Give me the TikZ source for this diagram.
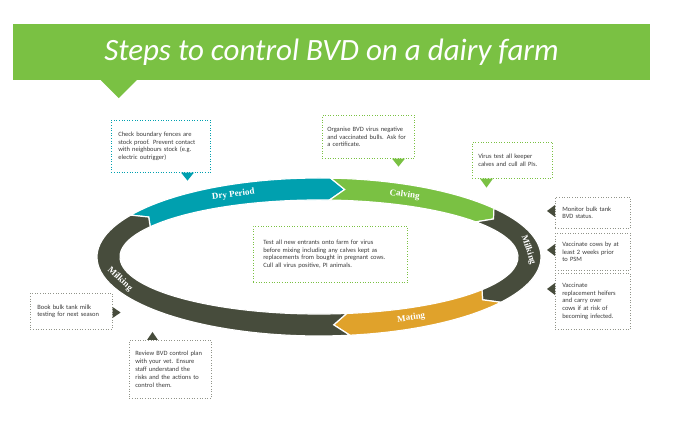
\documentclass[tikz,border=0pt]{standalone}
\usepackage{fontspec}
\setmainfont{Carlito}
\newfontfamily\ringfont{Liberation Serif}
\usetikzlibrary{positioning}

\definecolor{bvdgreen}{HTML}{7AC143}
\definecolor{bvdteal}{HTML}{00A0AF}
\definecolor{bvddark}{HTML}{474C3C}
\definecolor{bvdorange}{HTML}{E0A22B}
\definecolor{bvdtext}{HTML}{3A3A3A}

\begin{document}
\begin{tikzpicture}[
    x=1pt, y=1pt,
    banner/.style={
        fill=bvdgreen, minimum width=637pt, minimum height=56pt, inner sep=0pt,
        text=white, font=\fontsize{31}{31}\selectfont\itshape
    },
    note/.style={
        draw=#1, dotted, line width=0.6pt, anchor=north west, align=left,
        font=\fontsize{6.5}{7.8}\selectfont, text=bvdtext, inner xsep=7pt, inner ysep=4pt
    },
    seglbl/.style={font=\ringfont\bfseries\fontsize{9}{9}\selectfont, text=white, inner sep=0pt}
]
\useasboundingbox (0,0) rectangle (673,444);

% title banner
\node[banner] (title) at (331.5,392) {Steps to control BVD on a dairy farm};
\fill[bvdgreen] ([xshift=88pt]title.south west) -- ([xshift=124pt]title.south west)
    -- ([xshift=106pt, yshift=-18pt]title.south west) -- cycle;

% cycle ring
\begin{scope}[shift={(319,187)}]
\foreach \col/\from/\to in {bvdteal/148/87, bvdgreen/87/38, bvddark/38/-35, bvdorange/-35/-82, bvddark/-82/-212}
    \filldraw[fill=\col, draw=white, line width=1.2pt, line join=miter]
        (\from:222 and 79) arc[start angle=\from, end angle=\to, x radius=222pt, y radius=79pt]
        -- ({\to-4}:210.5 and 68) -- (\to:199 and 57)
        arc[start angle=\to, end angle=\from, x radius=199pt, y radius=57pt]
        -- ({\from-4}:210.5 and 68) -- cycle;

\node[seglbl, rotate=7.5] (dry) at (114:210.5 and 68) {Dry Period};
\node[seglbl, rotate=-7.5] (calving) at (66:210.5 and 68) {Calving};
\node[seglbl, rotate=-72] (milkright) at (6:210.5 and 68) {Milking};
\node[seglbl, rotate=8] (mating) at (-64:210.5 and 68) {Mating};
\node[seglbl, rotate=-43] (milkleft) at (199:210.5 and 68) {Milking};
\end{scope}

% notes
\node[note=bvdteal, text width=85pt, minimum height=52pt] (fences) at (111,324)
    {Check boundary fences are\\stock proof. Prevent contact\\with neighbours stock (e.g.\\electric outrigger)};
\fill[bvdteal] ([xshift=70pt]fences.south west) -- ([xshift=83pt]fences.south west)
    -- ([xshift=76.5pt, yshift=-8pt]fences.south west) -- cycle;

\node[note=bvdgreen, text width=82pt, minimum height=43pt, inner xsep=5pt] (bulls) at (322,329)
    {Organise BVD virus negative\\and vaccinated bulls. Ask for\\a certificate.};
\fill[bvdgreen] ([xshift=70pt]bulls.south west) -- ([xshift=83pt]bulls.south west)
    -- ([xshift=76.5pt, yshift=-8pt]bulls.south west) -- cycle;

\node[note=bvdgreen, text width=68pt, minimum height=36pt, inner xsep=6pt] (keeper) at (472,302)
    {Virus test all keeper\\calves and cull all PIs.};
\fill[bvdgreen] ([xshift=8pt]keeper.south west) -- ([xshift=21pt]keeper.south west)
    -- ([xshift=14.5pt, yshift=-9pt]keeper.south west) -- cycle;

\node[note=bvddark!60, text width=61pt, minimum height=31pt] (bulktank) at (555,247)
    {Monitor bulk tank\\BVD status.};
\fill[bvddark] ([yshift=-8pt]bulktank.north west) -- ([yshift=-20pt]bulktank.north west)
    -- ([xshift=-8pt, yshift=-14pt]bulktank.north west) -- cycle;

\node[note=bvddark!60, text width=61pt, minimum height=37pt] (vaccows) at (555,211)
    {Vaccinate cows by at\\least 2 weeks prior\\to PSM};
\fill[bvddark] ([yshift=-11pt]vaccows.north west) -- ([yshift=-23pt]vaccows.north west)
    -- ([xshift=-8pt, yshift=-17pt]vaccows.north west) -- cycle;

\node[note=bvddark!60, text width=61pt, minimum height=56pt] (heifers) at (555,171)
    {Vaccinate\\replacement heifers\\and carry over\\cows if at risk of\\becoming infected.};
\fill[bvddark] ([yshift=-10pt]heifers.north west) -- ([yshift=-22pt]heifers.north west)
    -- ([xshift=-8pt, yshift=-16pt]heifers.north west) -- cycle;

\node[note=bvdgreen, text width=134pt, minimum height=56pt, inner xsep=10pt] (entrants) at (253,218)
    {Test all new entrants onto farm for virus\\before mixing including any calves kept as\\replacements from bought in pregnant cows.\\Cull all virus positive, PI animals.};

\node[note=bvddark!60, text width=68pt, minimum height=36pt] (milktest) at (30,151)
    {Book bulk tank milk\\testing for next season};
\fill[bvddark] ([yshift=-14pt]milktest.north east) -- ([yshift=-25pt]milktest.north east)
    -- ([xshift=8pt, yshift=-19.5pt]milktest.north east) -- cycle;

\node[note=bvddark!60, text width=70pt, minimum height=58pt, inner xsep=6pt] (review) at (129,104)
    {Review BVD control plan\\with your vet. Ensure\\staff understand the\\risks and the actions to\\control them.};
\fill[bvddark] ([xshift=18pt]review.north west) -- ([xshift=29pt]review.north west)
    -- ([xshift=23.5pt, yshift=8pt]review.north west) -- cycle;

\end{tikzpicture}
\end{document}
